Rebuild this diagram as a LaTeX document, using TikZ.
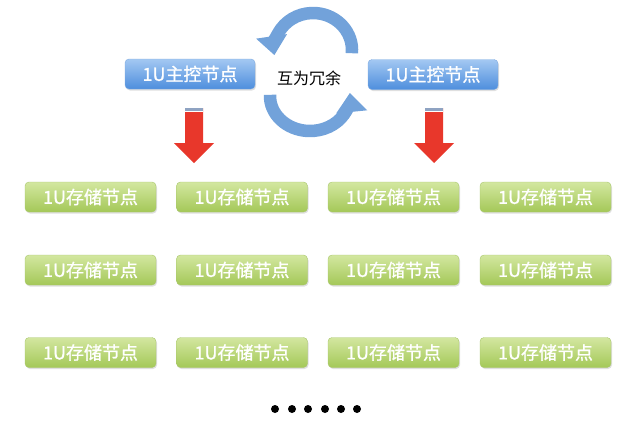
\documentclass[tikz,border=0pt]{standalone}
\usepackage{fontspec}
\newfontfamily\cjk{Noto Sans CJK SC}
\newfontfamily\cjkb[FakeBold=1]{Noto Sans CJK SC}
\usetikzlibrary{arrows.meta,shadows}
\definecolor{gtop}{HTML}{D3E7A0}
\definecolor{gbot}{HTML}{A4C858}
\definecolor{gdraw}{HTML}{A8C66C}
\definecolor{btop}{HTML}{A3C8F2}
\definecolor{bbot}{HTML}{4E8EDD}
\definecolor{bdraw}{HTML}{7EAAE0}
\definecolor{cyc}{HTML}{72A2DA}
\definecolor{redar}{HTML}{E8372B}
\definecolor{redtop}{HTML}{8FA3C2}
\begin{document}
\begin{tikzpicture}[x=1pt,y=-1pt,
  boxbase/.style={rounded corners=4pt, minimum width=131pt, minimum height=30pt,
    inner sep=0pt, text=white, font=\cjkb\fontsize{18}{18}\selectfont,
    drop shadow={shadow xshift=1pt,shadow yshift=-1.5pt,opacity=0.25}},
  greenbox/.style={boxbase, draw=gdraw, top color=gtop, bottom color=gbot},
  bluebox/.style={boxbase, draw=bdraw, top color=btop, bottom color=bbot, minimum width=130pt},
  cycarrow/.style={draw=cyc, line width=12.5pt, -{Triangle[width=30pt,length=19pt]}},
  dotmark/.style={circle, fill=black, inner sep=0pt, minimum size=8pt}
]
\useasboundingbox (0,0) rectangle (644,432);

% master nodes
\node[bluebox] (m1) at (190,74) {1U主控节点};
\node[bluebox] (m2) at (433,74.5) {1U主控节点};
\node[font=\cjk\fontsize{16}{16}\selectfont] (red) at (309,78) {互为冗余};

% redundancy cycle arrows
\draw[cycarrow] (313,50) ++(5:39 and 37) arc[start angle=5,end angle=-188,x radius=39,y radius=37];
\draw[cycarrow] (310,96) ++(182:40 and 35) arc[start angle=182,end angle=-5,x radius=40,y radius=35];

% red down arrows
\foreach \cx/\nm in {194/ra1,434/ra2}{
  \fill[redar] (\cx-9,108) -- (\cx+9,108) -- (\cx+9,143) -- (\cx+20,143) -- (\cx,163) -- (\cx-20,143) -- (\cx-9,143) -- cycle;
  \fill[redtop] (\cx-9,108) rectangle (\cx+9,111);
  \fill[white] (\cx-9,111) rectangle (\cx+9,112.2);
  \coordinate (\nm) at (\cx,163);
}

% storage nodes
\foreach \r/\y in {1/197,2/270,3/352.5}{
  \foreach \c/\x in {1/90.5,2/242,3/393.5,4/545.5}{
    \node[greenbox] (s\r\c) at (\x,\y) {1U存储节点};
  }
}

% dots
\foreach \i/\x in {1/275,2/292,3/308,4/325,5/341,6/357}{
  \node[dotmark] (d\i) at (\x,409) {};
}
\end{tikzpicture}
\end{document}
